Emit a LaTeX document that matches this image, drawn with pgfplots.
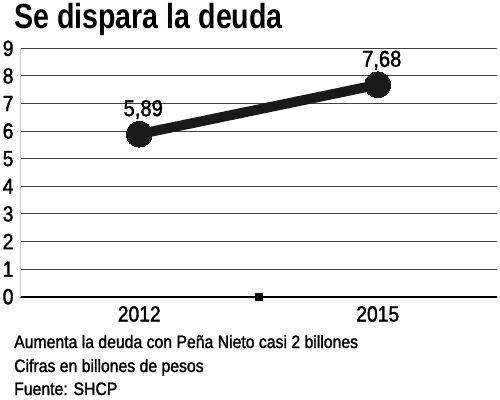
\documentclass[border=0pt]{standalone}
\usepackage{pgfplots}
\pgfplotsset{compat=1.18}
\usepackage{fontspec}
\setmainfont{Liberation Sans}[FakeStretch=0.88, FakeBold=1.5]
\newfontfamily\titlefont{Liberation Sans}[FakeStretch=0.82]
\begin{document}
\begin{tikzpicture}[x=1bp,y=1bp]
\path[use as bounding box] (0,0) rectangle (500,399);
\begin{axis}[
  at={(20bp,102.3bp)}, anchor=origin,
  scale only axis, width=477bp, height=248.4bp,
  xmin=0.5, xmax=2.5, ymin=0, ymax=9,
  axis x line*=bottom, axis y line*=left,
  x axis line style={black, line width=2pt, -},
  y axis line style={black!20, line width=0.8pt, -},
  xtick={1,2}, xticklabels={2012,2015},
  ytick={0,...,9},
  ymajorgrids, grid style={black!75, line width=0.9pt},
  major tick length=0pt,
  tick label style={font=\fontsize{22}{22}\selectfont},
  /pgf/number format/assume math mode=true,
  yticklabel style={anchor=east, xshift=-3bp},
  xticklabel style={anchor=north, yshift=-6bp},
  clip=false,
]
\addplot[black!90, line width=10pt, mark=*, mark size=13bp, mark options={line width=0pt},
  nodes near coords, point meta=explicit symbolic,
  every node near coord/.style={font=\fontsize{23}{23}\selectfont, anchor=base, yshift=18bp, xshift=4bp, text=black}]
  coordinates {(1,5.89)[5,89] (2,7.68)[7,68]};
\addplot[only marks, mark=square*, mark size=3.5bp, black] coordinates {(1.5,0)};
\end{axis}
\node[anchor=base west, inner sep=0pt, font=\titlefont\bfseries\fontsize{35}{35}\selectfont] at (14,371) {Se dispara la deuda};
\node[anchor=base west, inner sep=0pt, font=\fontsize{18}{18}\selectfont] at (14,51) {Aumenta la deuda con Peña Nieto casi 2 billones};
\node[anchor=base west, inner sep=0pt, font=\fontsize{18}{18}\selectfont] at (14,27) {Cifras en billones de pesos};
\node[anchor=base west, inner sep=0pt, font=\fontsize{18}{18}\selectfont] at (14,4) {Fuente: SHCP};
\end{tikzpicture}
\end{document}
